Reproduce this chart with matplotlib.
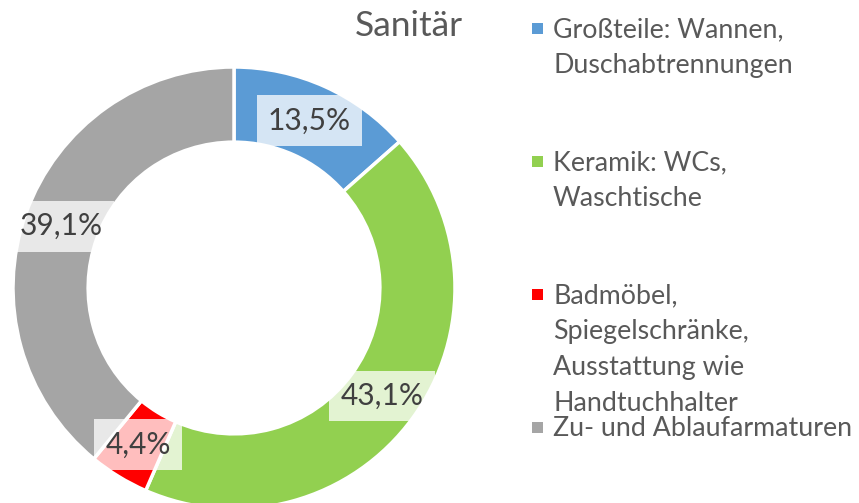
import matplotlib
matplotlib.use("Agg")
import matplotlib.pyplot as plt
from matplotlib.patches import Rectangle
import numpy as np

# ---- data ----
title = "Sanitär"
categories = [
    "Großteile: Wannen,\nDuschabtrennungen",
    "Keramik: WCs,\nWaschtische",
    "Badmöbel,\nSpiegelschränke,\nAusstattung wie\nHandtuchhalter",
    "Zu- und Ablaufarmaturen",
]
values = [13.5, 43.1, 4.4, 39.1]
colors = ["#5B9BD5", "#92D050", "#FF0000", "#A5A5A5"]

W, H = 859, 503
plt.rcParams['font.family'] = ['Lato', 'DejaVu Sans']
fig = plt.figure(figsize=(W / 100, H / 100), dpi=100)

cx, cy, R = 234, 288, 221
ax = fig.add_axes([(cx - R) / W, (H - cy - R) / H, 2 * R / W, 2 * R / H])
wedges, _ = ax.pie(values, colors=colors, startangle=90, counterclock=False,
                   radius=1.0,
                   wedgeprops=dict(width=0.34, edgecolor="white", linewidth=2.5))
ax.set_xlim(-1, 1)
ax.set_ylim(-1, 1)
ax.set_aspect("equal")
ax.axis("off")

r_lab = 0.83
for w, v in zip(wedges, values):
    ang = np.deg2rad((w.theta1 + w.theta2) / 2)
    ax.text(r_lab * np.cos(ang), r_lab * np.sin(ang), f"{v:.1f}".replace(".", ",") + "%",
            ha="center", va="center", fontsize=21.5, color="#404040",
            bbox=dict(boxstyle="square,pad=0.38", facecolor="white", edgecolor="none", alpha=0.75),
            clip_on=False)

# title
fig.text(409 / W, 1 - 36 / H, title, ha="center", va="baseline", fontsize=25.5, color="#595959")

# legend (manual, Excel style)
first_base = 37
entry_step = 133
line_step = 36
for i, (lab, col) in enumerate(zip(categories, colors)):
    base = first_base + i * entry_step
    fig.patches.append(Rectangle((532 / W, 1 - (base - 3) / H), 11 / W, 11 / H,
                                 transform=fig.transFigure, facecolor=col, edgecolor="none"))
    for j, line in enumerate(lab.split("\n")):
        fig.text(553 / W, 1 - (base + j * line_step) / H, line, ha="left", va="baseline",
                 fontsize=19.3, color="#595959")

fig.savefig("out.png", dpi=100)
